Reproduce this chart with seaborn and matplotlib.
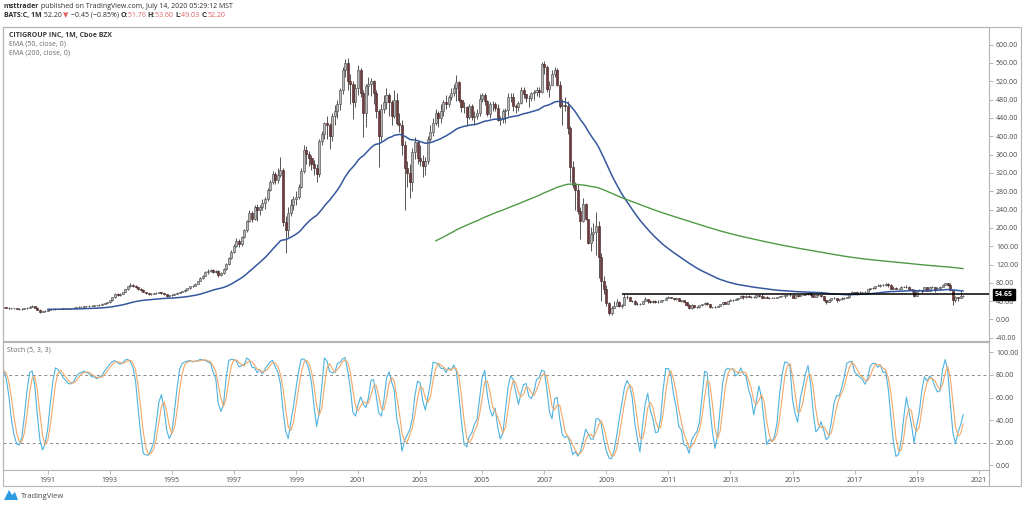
import matplotlib
matplotlib.use("Agg")
import matplotlib.pyplot as plt
from matplotlib.patches import Rectangle, Polygon
import numpy as np
import pandas as pd
import seaborn as sns

# monthly bars, first bar = Dec 1986 (earlier bars only feed the EMAs)
first_month = 1986 + 11 / 12

closes = [
    20,
    20, 22, 23, 24, 23, 24, 25, 26, 25, 17, 16, 17,            # 1987
    18, 19, 19, 20, 20, 21, 20, 20, 21, 21, 20, 21,            # 1988
    22, 22, 23, 24, 25, 26, 27, 27, 26, 25, 24, 24,            # 1989
    23, 22, 23, 24, 26, 28, 29, 26, 21, 17, 18, 19,            # 1990
    21, 22, 22, 23, 23, 23, 24, 24, 24, 25, 26, 27,            # 1991
    28, 28, 29, 29, 30, 30, 31, 31, 32, 34, 36, 38,            # 1992
    42, 48, 55, 54, 56, 60, 66, 72, 76, 74, 70, 66,            # 1993
    64, 60, 57, 55, 56, 57, 58, 59, 57, 55, 52, 53,            # 1994
    54, 56, 58, 60, 62, 65, 68, 72, 74, 78, 84, 90,            # 1995
    96, 104, 106, 108, 104, 106, 97, 102, 110, 122, 135, 148,  # 1996
    160, 172, 165, 180, 195, 215, 232, 220, 246, 238, 245, 254,  # 1997
    262, 283, 300, 318, 305, 315, 326, 213, 195, 232, 250, 262,  # 1998
    268, 290, 325, 370, 362, 352, 340, 330, 318, 390, 405, 428,  # 1999
    425, 400, 445, 455, 470, 500, 545, 560, 520, 515, 475, 505,  # 2000
    545, 495, 450, 510, 515, 520, 495, 455, 400, 460, 475, 490,  # 2001
    475, 445, 480, 430, 425, 380, 330, 320, 300, 365, 388, 352,  # 2002
    345, 335, 345, 395, 410, 430, 450, 440, 455, 475, 470, 486,  # 2003
    495, 505, 518, 480, 465, 465, 441, 466, 441, 444, 450, 482,  # 2004
    490, 477, 449, 470, 471, 462, 435, 438, 455, 458, 485, 485,  # 2005
    466, 463, 472, 500, 493, 483, 483, 494, 497, 502, 496, 557,  # 2006
    551, 504, 513, 536, 545, 513, 466, 469, 467, 419, 333, 294,  # 2007
    282, 237, 214, 253, 219, 168, 187, 190, 205, 136, 83, 67,    # 2008
    35.5, 14.9, 25.3, 30.5, 37.2, 29.7, 31.7, 50.0, 48.4, 40.9, 41.0, 33.1,  # 2009
    33.2, 34.0, 40.5, 43.7, 39.6, 37.6, 41.0, 37.1, 39.1, 41.7, 42.0, 47.3,  # 2010
    48.2, 46.8, 44.2, 46.0, 41.2, 41.6, 38.3, 31.0, 25.6, 31.6, 27.5, 26.3,  # 2011
    30.7, 33.3, 36.5, 33.0, 26.5, 27.4, 27.1, 29.7, 32.7, 37.4, 34.6, 39.6,  # 2012
    42.2, 42.0, 44.2, 46.7, 52.0, 48.0, 52.1, 48.3, 48.5, 48.8, 52.9, 52.1,  # 2013
    47.4, 48.6, 47.6, 47.9, 47.6, 47.1, 48.9, 51.6, 51.8, 53.5, 54.0, 54.1,  # 2014
    47.0, 52.4, 51.5, 53.3, 54.1, 55.2, 58.5, 53.5, 49.6, 53.2, 54.1, 51.8,  # 2015
    42.6, 38.8, 41.8, 46.3, 46.6, 42.4, 43.8, 47.7, 47.2, 49.2, 56.4, 59.4,  # 2016
    55.8, 59.8, 59.8, 59.1, 60.5, 66.9, 68.5, 68.0, 72.7, 73.5, 75.5, 74.4,  # 2017
    78.5, 75.5, 67.5, 68.3, 66.7, 66.9, 71.9, 71.2, 71.7, 65.5, 64.8, 52.1,  # 2018
    64.5, 64.0, 62.2, 70.7, 62.2, 70.0, 71.2, 64.4, 69.1, 71.9, 75.1, 79.9,  # 2019
    74.4, 63.4, 42.1, 48.6, 47.9, 51.1, 52.2,                                # 2020
]

highs = [
    21,
    21, 23, 24, 25, 25, 25, 26, 27, 27, 26, 18, 18,
    19, 20, 20, 21, 21, 22, 22, 21, 22, 22, 22, 22,
    23, 23, 24, 25, 26, 27, 28, 28, 28, 27, 26, 25,
    25, 24, 24, 25, 27, 29, 31, 30, 27, 22, 19, 20,
    22, 23, 23, 24, 24, 24, 25, 25, 25, 26, 27, 28,
    29, 29, 30, 30, 31, 31, 32, 32, 33, 35, 37, 39,
    43, 49, 57, 57, 58, 61, 67, 74, 79, 78, 75, 71,
    68, 66, 61, 58, 57, 58, 59, 61, 60, 58, 56, 54,
    55, 57, 59, 61, 63, 66, 69, 73, 76, 79, 85, 92,
    98, 106, 110, 111, 110, 109, 107, 104, 112, 124, 137, 152,
    165, 178, 176, 182, 198, 218, 240, 236, 250, 252, 250, 262,
    268, 288, 305, 325, 322, 330, 355, 330, 225, 245, 262, 270,
    280, 296, 330, 380, 378, 368, 360, 348, 340, 395, 412, 432,
    445, 428, 450, 468, 480, 505, 552, 568, 570, 535, 520, 515,
    555, 550, 500, 515, 530, 528, 522, 500, 460, 470, 490, 505,
    495, 480, 500, 495, 450, 435, 390, 345, 340, 375, 398, 390,
    380, 360, 355, 400, 425, 440, 460, 455, 470, 480, 490, 490,
    505, 515, 534, 520, 482, 475, 466, 470, 470, 455, 460, 492,
    495, 494, 480, 474, 478, 475, 470, 445, 460, 462, 495, 495,
    494, 470, 478, 508, 508, 493, 490, 497, 500, 508, 508, 562,
    564, 555, 520, 545, 552, 550, 520, 482, 485, 478, 422, 345,
    300, 295, 245, 265, 255, 220, 203, 210, 235, 215, 145, 95,
    76, 38, 29, 40, 44, 41, 33, 55, 52.5, 50, 43, 42,
    38, 35, 41, 50, 44.5, 42, 42.5, 42, 41.5, 43, 43, 48.5,
    51, 50, 47.5, 47, 46.5, 42.5, 42, 38.5, 33, 34.2, 32, 29.5,
    31, 34, 38, 38, 33.5, 28, 28.5, 30.5, 33.3, 38.7, 38, 40,
    44.3, 45.5, 47.6, 47.5, 53.6, 53.3, 53.6, 53, 51.8, 52, 53.4, 53.6,
    55.3, 50.9, 51, 48.5, 49, 48.6, 49.8, 51.7, 53, 54, 54.3, 56.8,
    54.3, 53.2, 53.4, 55, 54.8, 56.8, 59.5, 60.3, 54, 53.5, 55.6, 54.3,
    52, 43.5, 43.9, 47.9, 48.4, 47.5, 44.5, 48.6, 48.3, 50, 57.2, 61.6,
    61, 61.5, 62.5, 61, 62.6, 67.3, 69.5, 70.2, 73.2, 76.5, 76.8, 77.2,
    80.7, 80.3, 77.4, 72, 70, 69.6, 72.4, 73.8, 75.2, 72, 67.4, 65.7,
    65.2, 66.2, 65.1, 71.5, 71.8, 70.6, 72.7, 71.3, 70, 72.9, 76.8, 80.1,
    80.5, 79.8, 64.4, 51.5, 50, 62.5, 53.6,
]

lows = [
    19,
    19, 20, 21, 22, 22, 22, 23, 24, 24, 15, 15, 15,
    16, 17, 18, 18, 19, 19, 19, 19, 19, 20, 19, 19,
    20, 21, 21, 22, 23, 24, 25, 26, 25, 23, 23, 23,
    22, 21, 21, 22, 23, 25, 27, 25, 20, 15, 16, 17,
    18, 20, 21, 21, 22, 22, 22, 23, 23, 23, 24, 25,
    26, 27, 27, 28, 28, 29, 29, 30, 30, 31, 33, 35,
    37, 41, 47, 51, 52, 55, 59, 65, 71, 71, 68, 64,
    62, 59, 55, 53, 53, 55, 56, 57, 55, 53, 50, 50,
    51, 53, 55, 57, 59, 61, 64, 67, 70, 73, 77, 83,
    88, 94, 100, 103, 101, 102, 93, 95, 100, 108, 120, 133,
    145, 158, 158, 160, 178, 192, 212, 212, 218, 215, 228, 238,
    242, 258, 280, 296, 295, 298, 310, 205, 145, 180, 225, 240,
    250, 262, 288, 320, 340, 335, 326, 315, 300, 312, 380, 395,
    395, 372, 390, 425, 440, 458, 492, 530, 500, 470, 437, 465,
    490, 485, 399, 420, 490, 488, 470, 440, 334, 390, 450, 460,
    445, 425, 440, 425, 410, 360, 240, 290, 265, 280, 350, 340,
    335, 310, 315, 340, 390, 400, 425, 420, 430, 445, 460, 465,
    480, 488, 478, 475, 452, 450, 425, 437, 436, 425, 438, 445,
    475, 468, 445, 440, 455, 455, 433, 425, 428, 430, 445, 475,
    455, 450, 455, 470, 483, 475, 465, 478, 480, 488, 486, 495,
    537, 496, 485, 512, 530, 510, 461, 425, 455, 405, 300, 288,
    238, 230, 176, 212, 218, 165, 150, 171, 140, 90, 40, 55,
    30, 10, 9.7, 24, 30, 27, 26, 31, 45, 40, 38.5, 32,
    31, 31, 34, 40, 36, 36, 36, 36, 36.5, 38.5, 39.5, 41.5,
    46.5, 45.8, 42.5, 43.2, 39.5, 37.8, 37.5, 28.8, 23, 23, 25.5, 24,
    25.9, 29.3, 32.5, 32, 25.9, 24.6, 24.8, 26.5, 28.5, 32.3, 32.8, 34.3,
    39.5, 39.5, 41.6, 42.3, 46.4, 45.3, 46.5, 48.2, 47, 46.6, 47.6, 49.6,
    46.4, 46.1, 46.2, 45.5, 46.2, 46, 46.7, 48.5, 51.3, 46.6, 52.2, 50.7,
    46.6, 46, 49.4, 50.9, 52.5, 53.2, 54.2, 49, 48.5, 48.5, 52.2, 49.5,
    39.5, 34.5, 37.5, 40, 44.2, 38.2, 40.5, 43.3, 45.3, 46.3, 47.5, 55.1,
    54.6, 54.3, 57.5, 57.6, 58.6, 60.3, 65.3, 65.5, 66.7, 72.5, 71.5, 73,
    74.1, 71.9, 67.3, 65.9, 66, 66.3, 66, 69.9, 69.8, 63.9, 60.2, 48.4,
    50.8, 62, 58.7, 62, 61.8, 61.5, 69.5, 60.1, 63.7, 64.4, 71.3, 74.8,
    73.2, 63.1, 32, 38.5, 40.5, 47, 49.03,
]

ema_fast_len = 50
ema_slow_len = 200
stoch_len, k_smooth, d_smooth = 5, 3, 3
level_value = 54.65
level_start = 2009.5

price_ticks = list(range(-40, 601, 40))
stoch_ticks = [0, 20, 40, 60, 80, 100]
stoch_bands = [20, 80]
year_ticks = list(range(1991, 2022, 2))

W, H = 1024, 507

df = pd.DataFrame({"close": closes, "high": highs, "low": lows}, dtype=float)
df["t"] = first_month + np.arange(len(df)) / 12
df["open"] = df["close"].shift(1).fillna(df["close"].iloc[0])
df["high"] = df[["high", "open", "close"]].max(axis=1)
df["low"] = df[["low", "open", "close"]].min(axis=1)


def tv_ema(values, n):
    # tradingview style: seeded with the simple average of the first n bars
    v = np.asarray(values, dtype=float)
    out = np.full(len(v), np.nan)
    a = 2 / (n + 1)
    out[n - 1] = v[:n].mean()
    for i in range(n, len(v)):
        out[i] = a * v[i] + (1 - a) * out[i - 1]
    return out


df["ema50"] = tv_ema(df["close"], ema_fast_len)
df["ema200"] = tv_ema(df["close"], ema_slow_len)
lo = df["low"].rolling(stoch_len).min()
hi = df["high"].rolling(stoch_len).max()
raw = 100 * (df["close"] - lo) / (hi - lo)
df["k"] = raw.rolling(k_smooth).mean()
df["d"] = df["k"].rolling(d_smooth).mean()

sns.set_theme(style="white")
plt.rcParams["font.family"] = ["Open Sans", "DejaVu Sans"]

fig = plt.figure(figsize=(W / 100, H / 100), dpi=100)
fig.patch.set_facecolor("white")


def px_axes(x0, y0, x1, y1, **kw):
    return fig.add_axes([x0 / W, 1 - y1 / H, (x1 - x0) / W, (y1 - y0) / H], **kw)


ax = px_axes(3, 27, 989, 341)
ax2 = px_axes(3, 342, 989, 470, sharex=ax)

# candles
up = df["close"] >= df["open"]
ax.vlines(df["t"], df["low"], df["high"], color="#4a4a4a", lw=0.65, zorder=2)
ax.bar(df["t"][up], (df["close"] - df["open"])[up], bottom=df["open"][up], width=0.065,
       color="#b9b9b9", edgecolor="#4f4f4f", linewidth=0.45, zorder=3)
ax.bar(df["t"][~up], (df["close"] - df["open"])[~up], bottom=df["open"][~up], width=0.065,
       color="#6e3c3c", edgecolor="#4a2a2a", linewidth=0.45, zorder=3)

sns.lineplot(data=df, x="t", y="ema50", ax=ax, color="#34579e", lw=1.1, zorder=4)
sns.lineplot(data=df, x="t", y="ema200", ax=ax, color="#4f9a45", lw=1.0, zorder=4)
ax.hlines(level_value, level_start, 2030, color="black", lw=1.1, zorder=5)

ax.set_xlim(1989.56, 2021.33)
ax.set_ylim(-47, 638.6)
ax.yaxis.tick_right()
ax.set_yticks(price_ticks)
ax.set_yticklabels([f"{v:.2f}" for v in price_ticks])
ax.tick_params(axis="y", labelsize=5, length=3, width=0.5, color="#9a9a9a",
               labelcolor="#4a4a4a", pad=2, right=True)
ax.tick_params(axis="x", bottom=False, labelbottom=False)
ax.set_xlabel("")
ax.set_ylabel("")
ax.text(1.006, level_value, f"{level_value:.2f}", transform=ax.get_yaxis_transform(),
        fontsize=5, color="white", fontweight="bold", va="center", ha="left", zorder=10,
        bbox=dict(boxstyle="square,pad=0.25", fc="black", ec="black"), clip_on=False)

# stochastic
sns.lineplot(data=df, x="t", y="k", ax=ax2, color="#4fb3de", lw=0.8, zorder=3)
sns.lineplot(data=df, x="t", y="d", ax=ax2, color="#f2a867", lw=0.8, zorder=3)
for b in stoch_bands:
    ax2.axhline(b, color="#8a8a8a", lw=0.7, ls=(0, (3, 3)), zorder=1)
ax2.set_ylim(-4.4, 109.3)
ax2.yaxis.tick_right()
ax2.set_yticks(stoch_ticks)
ax2.set_yticklabels([f"{v:.2f}" for v in stoch_ticks])
ax2.set_xticks(year_ticks)
ax2.set_xticklabels([str(y) for y in year_ticks])
ax2.tick_params(axis="y", labelsize=5, length=3, width=0.5, color="#9a9a9a",
                labelcolor="#4a4a4a", pad=2, right=True)
ax2.tick_params(axis="x", labelsize=5, length=3, width=0.5, color="#9a9a9a",
                labelcolor="#4a4a4a", pad=2, bottom=True)
ax2.set_xlabel("")
ax2.set_ylabel("")

for a in (ax, ax2):
    for s in a.spines.values():
        s.set_color("#b5b5b5")
        s.set_linewidth(0.8)

# outer frame and price-axis divider below the panels
fig.patches.append(Rectangle((3 / W, 1 - 486 / H), 1018 / W, 459 / H, transform=fig.transFigure,
                             fill=False, ec="#b5b5b5", lw=0.8))
fig.lines.append(plt.Line2D([989 / W, 989 / W], [1 - 486 / H, 1 - 470 / H],
                            transform=fig.transFigure, color="#b5b5b5", lw=0.8))

# legends inside panels
fig.text(9 / W, 1 - 35 / H, "CITIGROUP INC, 1M, Cboe BZX", fontsize=5, color="#3a3a3a",
         fontweight="bold", va="center")
fig.text(9 / W, 1 - 44 / H, "EMA (50, close, 0)", fontsize=5, color="#6a6a6a", va="center")
fig.text(9 / W, 1 - 52.5 / H, "EMA (200, close, 0)", fontsize=5, color="#6a6a6a", va="center")
fig.text(7 / W, 1 - 350 / H, "Stoch (5, 3, 3)", fontsize=5, color="#6a6a6a", va="center")

# header lines
renderer = fig.canvas.get_renderer()


def write_pieces(y_px, pieces, x_px=4):
    x = x_px
    for txt, color, weight in pieces:
        t = fig.text(x / W, 1 - y_px / H, txt, fontsize=5, color=color, fontweight=weight,
                     va="center", ha="left")
        x = t.get_window_extent(renderer).x1


dark = "#2e2e2e"
red = "#e06060"
write_pieces(7, [("msttrader", dark, "bold"),
                 (" published on TradingView.com, July 14, 2020 05:29:12 MST", dark, "normal")])
write_pieces(15.5, [("BATS:C, 1M", dark, "bold"), (" 52.20 ", dark, "normal"), ("▼", red, "normal"),
                    (" \u22120.45 (\u22120.85%) ", dark, "normal"),
                    ("O:", dark, "bold"), ("51.76 ", red, "normal"),
                    ("H:", dark, "bold"), ("53.60 ", red, "normal"),
                    ("L:", dark, "bold"), ("49.03 ", red, "normal"),
                    ("C:", dark, "bold"), ("52.20", red, "normal")])

# tradingview badge
fig.patches.append(Polygon([(4 / W, 1 - 500 / H), (9 / W, 1 - 490 / H), (12 / W, 1 - 495 / H),
                            (15 / W, 1 - 492 / H), (18 / W, 1 - 500 / H)],
                           closed=True, transform=fig.transFigure, fc="#2d9be2", ec="none"))
fig.text(21 / W, 1 - 496 / H, "TradingView", fontsize=5.5, color="#4a4a4a", va="center")

fig.savefig("out.png", dpi=100)
